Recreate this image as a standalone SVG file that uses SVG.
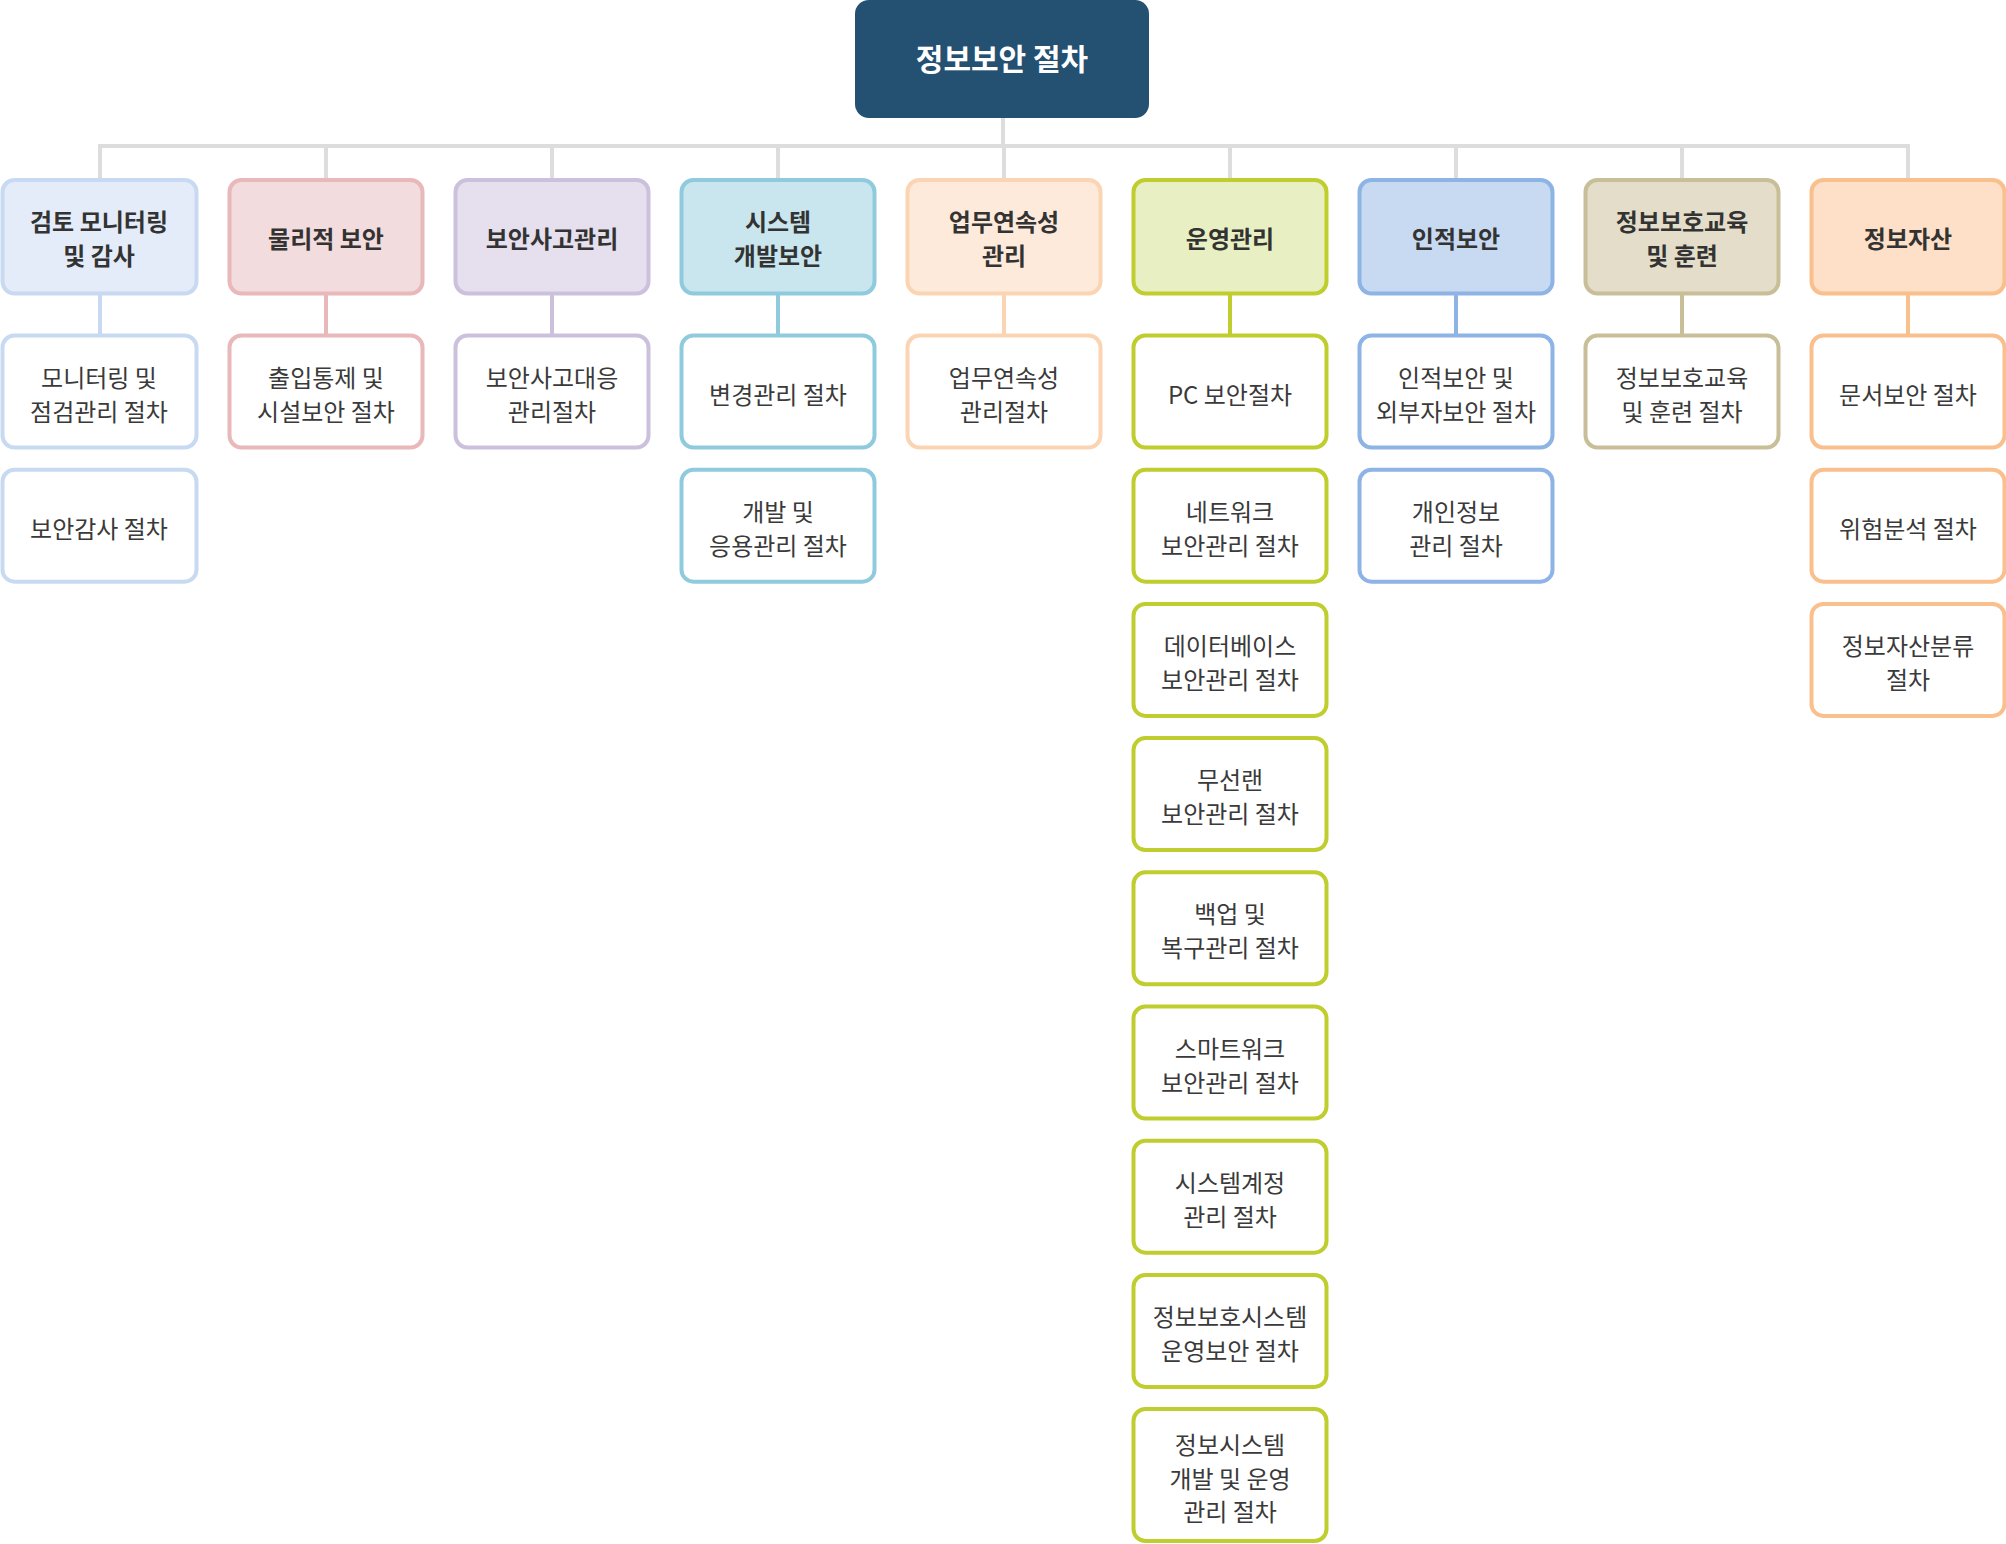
<svg xmlns="http://www.w3.org/2000/svg" width="2006" height="1544" viewBox="0 0 2006 1544">
<style>
  .box { stroke-width: 4; }
  .t { font-family: "Noto Sans CJK KR", "Noto Sans", sans-serif; font-size: 24px; text-anchor: middle; fill: #333333; }
  .cat { font-weight: 700; }
  .sub { font-weight: 400; fill: #3a3a3a; }
  .root { font-family: "Noto Sans CJK KR", "Noto Sans", sans-serif; font-size: 30px; font-weight: 700; text-anchor: middle; fill: #ffffff; }
  .gray { stroke: #dddddd; stroke-width: 4; fill: none; }
  .c1 { stroke: #c8daf2; } .f1 { fill: #e4ecf9; }
  .c2 { stroke: #e8b8ba; } .f2 { fill: #f3dcdd; }
  .c3 { stroke: #cbc1dd; } .f3 { fill: #e6e0ee; }
  .c4 { stroke: #90cbdd; } .f4 { fill: #c9e6ee; }
  .c5 { stroke: #fbd5b3; } .f5 { fill: #fdeadb; }
  .c6 { stroke: #bfcd2e; } .f6 { fill: #e8f0c3; }
  .c7 { stroke: #8db4e4; } .f7 { fill: #c7daf2; }
  .c8 { stroke: #c8bf99; } .f8 { fill: #e3ddc9; }
  .c9 { stroke: #f9bf8c; } .f9 { fill: #fde0c7; }
  .w { fill: #ffffff; }
  .ln { stroke-width: 4; fill: none; }
</style>
<rect width="2006" height="1544" fill="#ffffff"/>

<g id="connectors">
  <path class="gray" d="M1003,118 V146 M100,180 V146 H1908 V180 M326,146 V180 M552,146 V180 M778,146 V180 M1004,146 V180 M1230,146 V180 M1456,146 V180 M1682,146 V180"/>
  <path class="ln c1" d="M100,294 V336"/>
  <path class="ln c2" d="M326,294 V336"/>
  <path class="ln c3" d="M552,294 V336"/>
  <path class="ln c4" d="M778,294 V336"/>
  <path class="ln c5" d="M1004,294 V336"/>
  <path class="ln c6" d="M1230,294 V336"/>
  <path class="ln c7" d="M1456,294 V336"/>
  <path class="ln c8" d="M1682,294 V336"/>
  <path class="ln c9" d="M1908,294 V336"/>
</g>

<g id="root">
  <rect x="855" y="0" width="294" height="118" rx="14" fill="#245071"/>
  <text class="root" x="1002" y="70">정보보안 절차</text>
</g>

<!-- Column 1 -->
<g id="cat1">
  <rect class="box c1 f1" x="2.5" y="180" width="194" height="113.5" rx="12"/>
  <text class="t cat" x="99" y="231">검토 모니터링</text>
  <text class="t cat" x="99" y="265">및 감사</text>
</g>
<g id="c1s1">
  <rect class="box c1 w" x="2.5" y="335.5" width="194" height="112" rx="12"/>
  <text class="t sub" x="99" y="387">모니터링 및</text>
  <text class="t sub" x="99" y="421">점검관리 절차</text>
</g>
<g id="c1s2">
  <rect class="box c1 w" x="2.5" y="469.7" width="194" height="112" rx="12"/>
  <text class="t sub" x="99" y="538">보안감사 절차</text>
</g>

<!-- Column 2 -->
<g id="cat2">
  <rect class="box c2 f2" x="229.5" y="180" width="193" height="113.5" rx="12"/>
  <text class="t cat" x="326" y="248">물리적 보안</text>
</g>
<g id="c2s1">
  <rect class="box c2 w" x="229.5" y="335.5" width="193" height="112" rx="12"/>
  <text class="t sub" x="326" y="387">출입통제 및</text>
  <text class="t sub" x="326" y="421">시설보안 절차</text>
</g>

<!-- Column 3 -->
<g id="cat3">
  <rect class="box c3 f3" x="455.5" y="180" width="193" height="113.5" rx="12"/>
  <text class="t cat" x="552" y="248">보안사고관리</text>
</g>
<g id="c3s1">
  <rect class="box c3 w" x="455.5" y="335.5" width="193" height="112" rx="12"/>
  <text class="t sub" x="552" y="387">보안사고대응</text>
  <text class="t sub" x="552" y="421">관리절차</text>
</g>

<!-- Column 4 -->
<g id="cat4">
  <rect class="box c4 f4" x="681.5" y="180" width="193" height="113.5" rx="12"/>
  <text class="t cat" x="778" y="231">시스템</text>
  <text class="t cat" x="778" y="265">개발보안</text>
</g>
<g id="c4s1">
  <rect class="box c4 w" x="681.5" y="335.5" width="193" height="112" rx="12"/>
  <text class="t sub" x="778" y="404">변경관리 절차</text>
</g>
<g id="c4s2">
  <rect class="box c4 w" x="681.5" y="469.7" width="193" height="112" rx="12"/>
  <text class="t sub" x="778" y="521">개발 및</text>
  <text class="t sub" x="778" y="555">응용관리 절차</text>
</g>

<!-- Column 5 -->
<g id="cat5">
  <rect class="box c5 f5" x="907.5" y="180" width="193" height="113.5" rx="12"/>
  <text class="t cat" x="1004" y="231">업무연속성</text>
  <text class="t cat" x="1004" y="265">관리</text>
</g>
<g id="c5s1">
  <rect class="box c5 w" x="907.5" y="335.5" width="193" height="112" rx="12"/>
  <text class="t sub" x="1004" y="387">업무연속성</text>
  <text class="t sub" x="1004" y="421">관리절차</text>
</g>

<!-- Column 6 -->
<g id="cat6">
  <rect class="box c6 f6" x="1133.5" y="180" width="193" height="113.5" rx="12"/>
  <text class="t cat" x="1230" y="248">운영관리</text>
</g>
<g id="c6s1">
  <rect class="box c6 w" x="1133.5" y="335.5" width="193" height="112" rx="12"/>
  <text class="t sub" x="1230" y="404">PC 보안절차</text>
</g>
<g id="c6s2">
  <rect class="box c6 w" x="1133.5" y="469.7" width="193" height="112" rx="12"/>
  <text class="t sub" x="1230" y="521">네트워크</text>
  <text class="t sub" x="1230" y="555">보안관리 절차</text>
</g>
<g id="c6s3">
  <rect class="box c6 w" x="1133.5" y="603.9" width="193" height="112" rx="12"/>
  <text class="t sub" x="1230" y="655">데이터베이스</text>
  <text class="t sub" x="1230" y="689">보안관리 절차</text>
</g>
<g id="c6s4">
  <rect class="box c6 w" x="1133.5" y="738.1" width="193" height="112" rx="12"/>
  <text class="t sub" x="1230" y="789">무선랜</text>
  <text class="t sub" x="1230" y="823">보안관리 절차</text>
</g>
<g id="c6s5">
  <rect class="box c6 w" x="1133.5" y="872.3" width="193" height="112" rx="12"/>
  <text class="t sub" x="1230" y="923">백업 및</text>
  <text class="t sub" x="1230" y="957">복구관리 절차</text>
</g>
<g id="c6s6">
  <rect class="box c6 w" x="1133.5" y="1006.5" width="193" height="112" rx="12"/>
  <text class="t sub" x="1230" y="1058">스마트워크</text>
  <text class="t sub" x="1230" y="1092">보안관리 절차</text>
</g>
<g id="c6s7">
  <rect class="box c6 w" x="1133.5" y="1140.7" width="193" height="112" rx="12"/>
  <text class="t sub" x="1230" y="1192">시스템계정</text>
  <text class="t sub" x="1230" y="1226">관리 절차</text>
</g>
<g id="c6s8">
  <rect class="box c6 w" x="1133.5" y="1274.9" width="193" height="112" rx="12"/>
  <text class="t sub" x="1230" y="1326">정보보호시스템</text>
  <text class="t sub" x="1230" y="1360">운영보안 절차</text>
</g>
<g id="c6s9">
  <rect class="box c6 w" x="1133.5" y="1409" width="193" height="132" rx="12"/>
  <text class="t sub" x="1230" y="1454">정보시스템</text>
  <text class="t sub" x="1230" y="1488">개발 및 운영</text>
  <text class="t sub" x="1230" y="1521">관리 절차</text>
</g>

<!-- Column 7 -->
<g id="cat7">
  <rect class="box c7 f7" x="1359.5" y="180" width="193" height="113.5" rx="12"/>
  <text class="t cat" x="1456" y="248">인적보안</text>
</g>
<g id="c7s1">
  <rect class="box c7 w" x="1359.5" y="335.5" width="193" height="112" rx="12"/>
  <text class="t sub" x="1456" y="387">인적보안 및</text>
  <text class="t sub" x="1456" y="421">외부자보안 절차</text>
</g>
<g id="c7s2">
  <rect class="box c7 w" x="1359.5" y="469.7" width="193" height="112" rx="12"/>
  <text class="t sub" x="1456" y="521">개인정보</text>
  <text class="t sub" x="1456" y="555">관리 절차</text>
</g>

<!-- Column 8 -->
<g id="cat8">
  <rect class="box c8 f8" x="1585.5" y="180" width="193" height="113.5" rx="12"/>
  <text class="t cat" x="1682" y="231">정보보호교육</text>
  <text class="t cat" x="1682" y="265">및 훈련</text>
</g>
<g id="c8s1">
  <rect class="box c8 w" x="1585.5" y="335.5" width="193" height="112" rx="12"/>
  <text class="t sub" x="1682" y="387">정보보호교육</text>
  <text class="t sub" x="1682" y="421">및 훈련 절차</text>
</g>

<!-- Column 9 -->
<g id="cat9">
  <rect class="box c9 f9" x="1811.5" y="180" width="193" height="113.5" rx="12"/>
  <text class="t cat" x="1908" y="248">정보자산</text>
</g>
<g id="c9s1">
  <rect class="box c9 w" x="1811.5" y="335.5" width="193" height="112" rx="12"/>
  <text class="t sub" x="1908" y="404">문서보안 절차</text>
</g>
<g id="c9s2">
  <rect class="box c9 w" x="1811.5" y="469.7" width="193" height="112" rx="12"/>
  <text class="t sub" x="1908" y="538">위험분석 절차</text>
</g>
<g id="c9s3">
  <rect class="box c9 w" x="1811.5" y="603.9" width="193" height="112" rx="12"/>
  <text class="t sub" x="1908" y="655">정보자산분류</text>
  <text class="t sub" x="1908" y="689">절차</text>
</g>
</svg>
